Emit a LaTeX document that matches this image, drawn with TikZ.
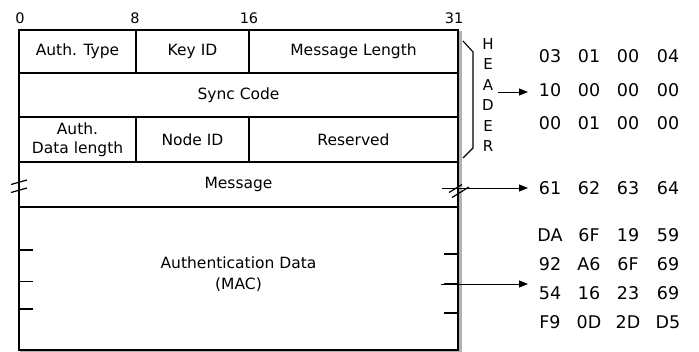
\documentclass[tikz,border=0pt]{standalone}
\usepackage{fontspec}
\setmainfont{DejaVu Sans}
\usetikzlibrary{arrows.meta}
\begin{document}
\begin{tikzpicture}[x=1pt,y=-1pt,
  field/.style={draw, line width=1.2pt, inner sep=0pt, align=center, font=\fontsize{15.5}{18}\selectfont},
  bitnum/.style={inner sep=0pt, font=\fontsize{14.5}{16}\selectfont},
  hex/.style={inner sep=0pt, font=\fontsize{17.5}{20}\selectfont},
  arr/.style={line width=0.9pt, -{Triangle[length=9pt,width=7pt]}},
  tick/.style={line width=1.3pt},
  brk/.style={line width=1.2pt}]
\useasboundingbox (0,0) rectangle (699,352);
\fill[white] (0,0) rectangle (699,352);
% shadow
\draw[gray!60, line width=3pt] (460.5,31) -- (460.5,351.5) -- (20,351.5);
% bit numbers
\node[bitnum] (b0) at (20,18) {0};
\node[bitnum] (b8) at (135,18) {8};
\node[bitnum] (b16) at (249,18) {16};
\node[bitnum] (b31) at (454,18) {31};
% fields
\node[field, minimum width=117pt, minimum height=43pt] (authtype) at (77.5,51.5) {Auth. Type};
\node[field, minimum width=113pt, minimum height=43pt] (keyid) at (192.5,51.5) {Key ID};
\node[field, minimum width=209pt, minimum height=43pt] (msglen) at (353.5,51.5) {Message Length};
\node[field, minimum width=439pt, minimum height=44pt] (sync) at (238.5,95) {Sync Code};
\node[field, minimum width=117pt, minimum height=45pt] (adl) at (77.5,139.5) {Auth.\\[1pt]Data length};
\node[field, minimum width=113pt, minimum height=45pt] (nodeid) at (192.5,139.5) {Node ID};
\node[field, minimum width=209pt, minimum height=45pt] (resv) at (353.5,139.5) {Reserved};
\node[field, minimum width=439pt, minimum height=45pt] (msg) at (238.5,184.5) {Message};
\node[field, minimum width=439pt, minimum height=143pt] (auth) at (238.5,278.5) {};
\node[inner sep=0pt, align=center, font=\fontsize{15.5}{21}\selectfont] (authtxt) at (238.5,274) {Authentication Data\\(MAC)};
% break marks on message row
\draw[brk] (11,184.5) -- (27,180);
\draw[brk] (11,192.5) -- (27,188);
\draw[brk] (449,192.5) -- (462,184.5);
\draw[brk] (452,197.5) -- (469,187);
% ticks on authentication data
\foreach \yy in {250,281.5,309} \draw[tick] (19,\yy) -- (33,\yy);
\foreach \yy in {254,284,313} \draw[tick] (444,\yy) -- (458,\yy);
% brace
\coordinate (bt) at (463,41);
\coordinate (bb) at (463,158);
\draw[line width=1.1pt] (bt) -- (473,52) -- (473,148) -- (bb);
% header letters
\node[inner sep=0pt, align=center, font=\fontsize{15}{20.4}\selectfont] (header) at (488,95) {H\\E\\A\\D\\E\\R};
% hex values
\foreach \r/\yy/\a/\b/\c/\d in {1/56/03/01/00/04, 2/90/10/00/00/00, 3/123/00/01/00/00,
   4/188/61/62/63/64, 5/235/DA/6F/19/59, 6/264/92/A6/6F/69, 7/293/54/16/23/69, 8/322/F9/0D/2D/D5}{
  \node[hex] (h\r a) at (550,\yy) {\a};
  \node[hex] (h\r b) at (589,\yy) {\b};
  \node[hex] (h\r c) at (628,\yy) {\c};
  \node[hex] (h\r d) at (668,\yy) {\d};
}
% arrows
\coordinate (ha) at (498,92);
\coordinate (hend) at (528,92);
\draw[arr] (ha) -- (hend);
\coordinate (ma) at (442,188);
\coordinate (mend) at (528,188);
\draw[arr] (ma) -- (mend);
\coordinate (aa) at (441,284);
\coordinate (aend) at (528,284);
\draw[arr] (aa) -- (aend);
\end{tikzpicture}
\end{document}
